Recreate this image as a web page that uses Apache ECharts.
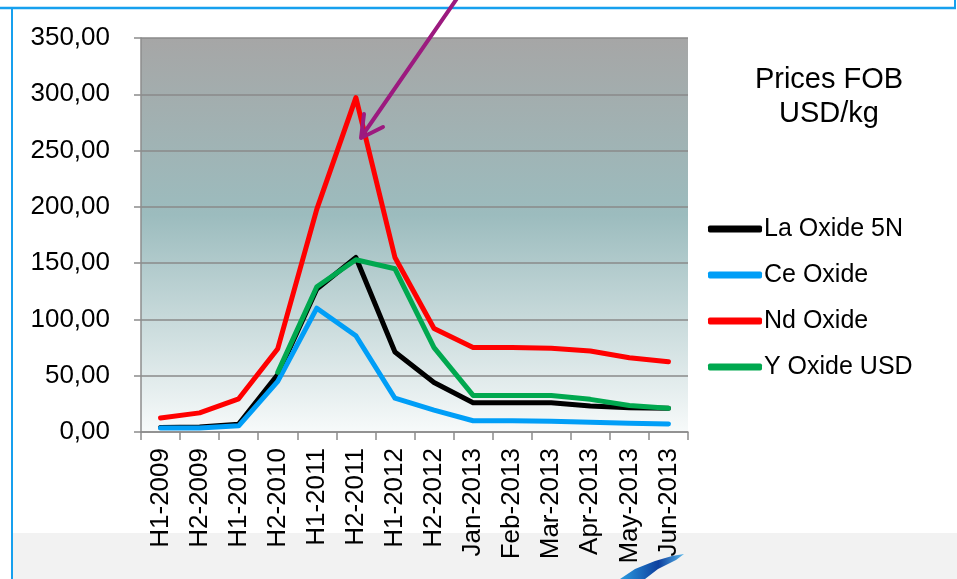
<!DOCTYPE html>
<html>
<head>
<meta charset="utf-8">
<script src="https://cdn.jsdelivr.net/npm/echarts@6/dist/echarts.min.js"></script>
<style>
  html, body { margin: 0; padding: 0; background: #fff; }
  #chart { width: 957px; height: 579px; }
</style>
</head>
<body>
<div id="chart"></div>
<script>
const categories = ['H1-2009', 'H2-2009', 'H1-2010', 'H2-2010', 'H1-2011', 'H2-2011', 'H1-2012',
  'H2-2012', 'Jan-2013', 'Feb-2013', 'Mar-2013', 'Apr-2013', 'May-2013', 'Jun-2013']

const laOxide = [4, 4.5, 7, 51, 127, 155, 71, 44, 26, 26, 26, 23, 21.5, 21]
const ceOxide = [3.5, 3.5, 5.5, 45, 110, 85.5, 30, 19.5, 10, 10, 9.5, 8.7, 7.8, 7.2]
const ndOxide = [12.5, 17, 29.5, 74, 198, 297, 155, 92, 75, 75, 74.5, 72, 66, 62.5]
const yOxide = [null, null, null, 53, 129, 153, 145, 75, 32.5, 32.5, 32.5, 29, 23.5, 21]

const yTicks = { min: 0, max: 350, interval: 50 }

const chart = echarts.init(document.getElementById('chart'))

function makeSeries(name, data, color) {
  return {
    name: name,
    type: 'line',
    data: data,
    symbol: 'none',
    color: color,
    lineStyle: { width: 5, color: color, cap: 'round', join: 'round' },
    z: 3
  }
}

const option = {
  animation: false,
  title: {
    text: 'Prices FOB\nUSD/kg',
    left: 824,
    top: 58,
    textAlign: 'center',
    textStyle: {
      fontFamily: 'Liberation Sans',
      fontSize: 29,
      fontWeight: 'normal',
      color: '#000',
      lineHeight: 34
    }
  },
  legend: {
    orient: 'vertical',
    left: 703,
    top: 209,
    itemWidth: 54,
    itemHeight: 7,
    itemGap: 16,
    icon: 'roundRect',
    textStyle: {
      fontFamily: 'Liberation Sans',
      fontSize: 25,
      color: '#000',
      lineHeight: 30,
      padding: [0, 0, 0, -3]
    },
    data: ['La Oxide 5N', 'Ce Oxide', 'Nd Oxide', 'Y Oxide USD']
  },
  grid: {
    left: 141,
    top: 38,
    right: 269,
    bottom: 147,
    show: true,
    borderWidth: 0,
    backgroundColor: new echarts.graphic.LinearGradient(0, 0, 0, 1, [
      { offset: 0, color: '#a6a6a6' },
      { offset: 0.45, color: '#9cbcbe' },
      { offset: 1, color: '#f7fafa' }
    ])
  },
  xAxis: {
    type: 'category',
    data: categories,
    boundaryGap: true,
    axisLine: { lineStyle: { color: '#8c8c8c', width: 1.5 } },
    axisTick: { show: true, length: 8, lineStyle: { color: '#8c8c8c', width: 1.5 } },
    axisLabel: {
      rotate: 90,
      margin: 16,
      interval: 0,
      fontFamily: 'Liberation Sans',
      fontSize: 26,
      color: '#000'
    },
    splitLine: { show: false }
  },
  yAxis: {
    type: 'value',
    min: yTicks.min,
    max: yTicks.max,
    interval: yTicks.interval,
    axisLine: { show: true, lineStyle: { color: '#8c8c8c', width: 1.5 } },
    axisTick: { show: true, length: 7, lineStyle: { color: '#8c8c8c', width: 1.5 } },
    axisLabel: {
      margin: 31,
      fontFamily: 'Liberation Sans',
      fontSize: 26,
      color: '#000',
      formatter: v => v.toFixed(2).replace('.', ',')
    },
    splitLine: { lineStyle: { color: '#8a8a8a', width: 1.5 } }
  },
  series: [
    makeSeries('La Oxide 5N', laOxide, '#000000'),
    makeSeries('Ce Oxide', ceOxide, '#009ef7'),
    makeSeries('Nd Oxide', ndOxide, '#ff0000'),
    makeSeries('Y Oxide USD', yOxide, '#00a84f')
  ],
  graphic: [
    // light grey band at the bottom of the slide
    { type: 'rect', z: -10, shape: { x: 12, y: 533, width: 945, height: 46 }, style: { fill: '#f2f2f2' } },
    // slide frame lines
    { type: 'line', z: 10, shape: { x1: 0, y1: 8, x2: 956, y2: 8 }, style: { stroke: '#16a0ee', lineWidth: 2.5 } },
    { type: 'line', z: 10, shape: { x1: 12, y1: 8, x2: 12, y2: 579 }, style: { stroke: '#16a0ee', lineWidth: 2 } },
    { type: 'line', z: 10, shape: { x1: 955, y1: 0, x2: 955, y2: 8 }, style: { stroke: '#16a0ee', lineWidth: 2 } },
    // purple arrow
    { type: 'line', z: 20, shape: { x1: 458, y1: -3, x2: 362, y2: 136 }, style: { stroke: '#9c1a7f', lineWidth: 4, lineCap: 'round' } },
    { type: 'polyline', z: 20, shape: { points: [[364, 114], [361, 138], [383, 127]] }, style: { stroke: '#9c1a7f', lineWidth: 4, lineCap: 'round', lineJoin: 'round', fill: null } },
    // logo swoosh, partly visible
    {
      type: 'polygon', z: 5,
      shape: { points: [[620, 579], [635, 569], [655, 561], [672, 556], [684, 554], [676, 560], [658, 569], [645, 579]] },
      style: {
        fill: new echarts.graphic.LinearGradient(0, 0, 1, 0, [
          { offset: 0, color: '#2a9be0' },
          { offset: 0.6, color: '#0d3f9e' },
          { offset: 1, color: '#5ab8ec' }
        ])
      }
    }
  ]
}

chart.setOption(option)
</script>
</body>
</html>
